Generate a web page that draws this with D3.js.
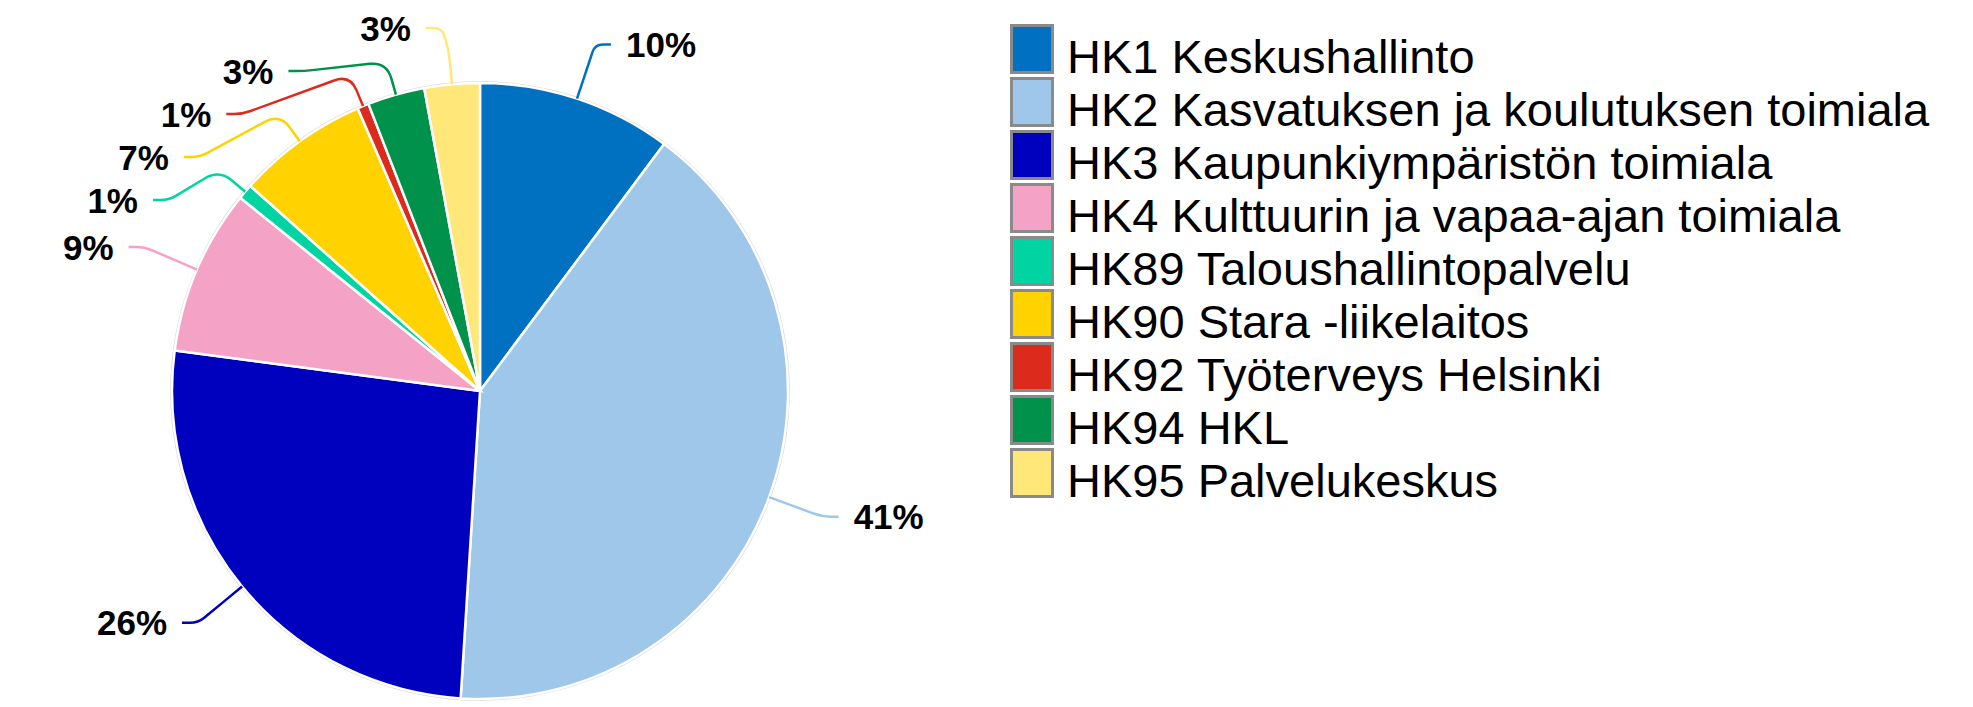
<!DOCTYPE html>
<html>
<head>
<meta charset="utf-8">
<script src="https://cdn.jsdelivr.net/npm/d3@7"></script>
<style>
  body { margin: 0; background: #fff; }
  svg text { font-family: "Liberation Sans", Arial, sans-serif; }
</style>
</head>
<body>
<div id="chart"></div>
<script>
// data (shares in %)
var categories = ["HK1 Keskushallinto", "HK2 Kasvatuksen ja koulutuksen toimiala",
  "HK3 Kaupunkiympäristön toimiala", "HK4 Kulttuurin ja vapaa-ajan toimiala",
  "HK89 Taloushallintopalvelu", "HK90 Stara -liikelaitos", "HK92 Työterveys Helsinki",
  "HK94 HKL", "HK95 Palvelukeskus"];
var values = [10.2, 40.8, 26.1, 8.7, 0.8, 6.9, 0.6, 3.0, 2.9];
var labels = ["10%", "41%", "26%", "9%", "1%", "7%", "1%", "3%", "3%"];
var colors = ["#0070C0", "#9FC7EA", "#0000BF", "#F4A3C6", "#00D4A2", "#FFD200", "#DC2A1C", "#00914A", "#FFE77A"];

var width = 1973, height = 707;
var cx = 480, cy = 391, radius = 308;
var kinkR = radius + 34, elbowR = 365, tail = 16, textGap = 15;
var labelGap = 43, labelTop = 28;

var svg = d3.select("#chart").append("svg")
    .attr("width", width)
    .attr("height", height);

var data = categories.map(function(c, i) {
  return { name: c, value: values[i], label: labels[i], color: colors[i] };
});

var pie = d3.pie().sort(null).value(function(d) { return d.value; });
var arcs = pie(data);
var arc = d3.arc().innerRadius(0).outerRadius(radius);

var g = svg.append("g").attr("transform", "translate(" + cx + "," + cy + ")");

// faint outline round the pie
g.append("circle")
    .attr("r", radius + 1)
    .attr("fill", "none")
    .attr("stroke", "#d4d4d4")
    .attr("stroke-width", 1.5);

g.selectAll("path.slice")
    .data(arcs)
    .enter().append("path")
    .attr("class", "slice")
    .attr("d", arc)
    .attr("fill", function(d) { return d.data.color; })
    .attr("stroke", "#fff")
    .attr("stroke-width", 2.5);

// label layout: ideal spot on the elbow circle, then pushed apart per side
arcs.forEach(function(a) {
  a.mid = (a.startAngle + a.endAngle) / 2;
  a.side = Math.sin(a.mid) < 0 ? -1 : 1;
  a.ly = -elbowR * Math.cos(a.mid);
});

[-1, 1].forEach(function(side) {
  var list = arcs.filter(function(a) { return a.side === side; })
      .sort(function(a, b) { return a.ly - b.ly; });
  var prev = -Infinity;
  list.forEach(function(a) {
    var y = Math.max(a.ly, prev + labelGap, labelTop - cy);
    a.ly = y;
    prev = y;
  });
});

function roundedPath(pts, rad) {
  var p = "M" + pts[0][0] + "," + pts[0][1];
  for (var i = 1; i < pts.length - 1; i++) {
    var a = pts[i - 1], b = pts[i], c = pts[i + 1];
    var d1 = Math.hypot(b[0] - a[0], b[1] - a[1]);
    var d2 = Math.hypot(c[0] - b[0], c[1] - b[1]);
    var r = Math.min(rad, d1 / 2, d2 / 2);
    var p1 = [b[0] + (a[0] - b[0]) * r / d1, b[1] + (a[1] - b[1]) * r / d1];
    var p2 = [b[0] + (c[0] - b[0]) * r / d2, b[1] + (c[1] - b[1]) * r / d2];
    p += "L" + p1[0] + "," + p1[1] + "Q" + b[0] + "," + b[1] + " " + p2[0] + "," + p2[1];
  }
  var last = pts[pts.length - 1];
  return p + "L" + last[0] + "," + last[1];
}

arcs.forEach(function(a) {
  var s = Math.sin(a.mid), c = Math.cos(a.mid);
  var p0 = [radius * s, -radius * c];
  var k = [kinkR * s, -kinkR * c];
  var dx = Math.sqrt(Math.max(elbowR * elbowR - a.ly * a.ly, 0));
  var ex = a.side * dx;
  // keep the elbow from crossing back over the kink
  if (a.side < 0) ex = Math.min(ex, k[0] - 4); else ex = Math.max(ex, k[0] + 4);
  var e = [ex, a.ly];
  var l = [ex + a.side * tail, a.ly];

  g.append("path")
      .attr("d", roundedPath([p0, k, e, l], 18))
      .attr("fill", "none")
      .attr("stroke", a.data.color)
      .attr("stroke-width", 2.5);

  g.append("text")
      .attr("x", l[0] + a.side * textGap)
      .attr("y", a.ly)
      .attr("dy", "0.36em")
      .attr("text-anchor", a.side < 0 ? "end" : "start")
      .style("font-size", "35px")
      .style("font-weight", "bold")
      .style("fill", "#000")
      .text(a.data.label);
});

// legend
var legendX = 1010, legendY = 24, rowH = 53;
var legend = svg.append("g").attr("transform", "translate(" + legendX + "," + legendY + ")");

var rows = legend.selectAll("g.row")
    .data(data)
    .enter().append("g")
    .attr("class", "row")
    .attr("transform", function(d, i) { return "translate(0," + (i * rowH) + ")"; });

rows.append("rect")
    .attr("x", 1.5)
    .attr("y", 1.5)
    .attr("width", 41)
    .attr("height", 47)
    .attr("fill", function(d) { return d.color; })
    .attr("stroke", "#8a8a8a")
    .attr("stroke-width", 3);

rows.append("text")
    .attr("x", 57)
    .attr("y", 49)
    .style("font-size", "47px")
    .style("fill", "#000")
    .text(function(d) { return d.name; });
</script>
</body>
</html>
